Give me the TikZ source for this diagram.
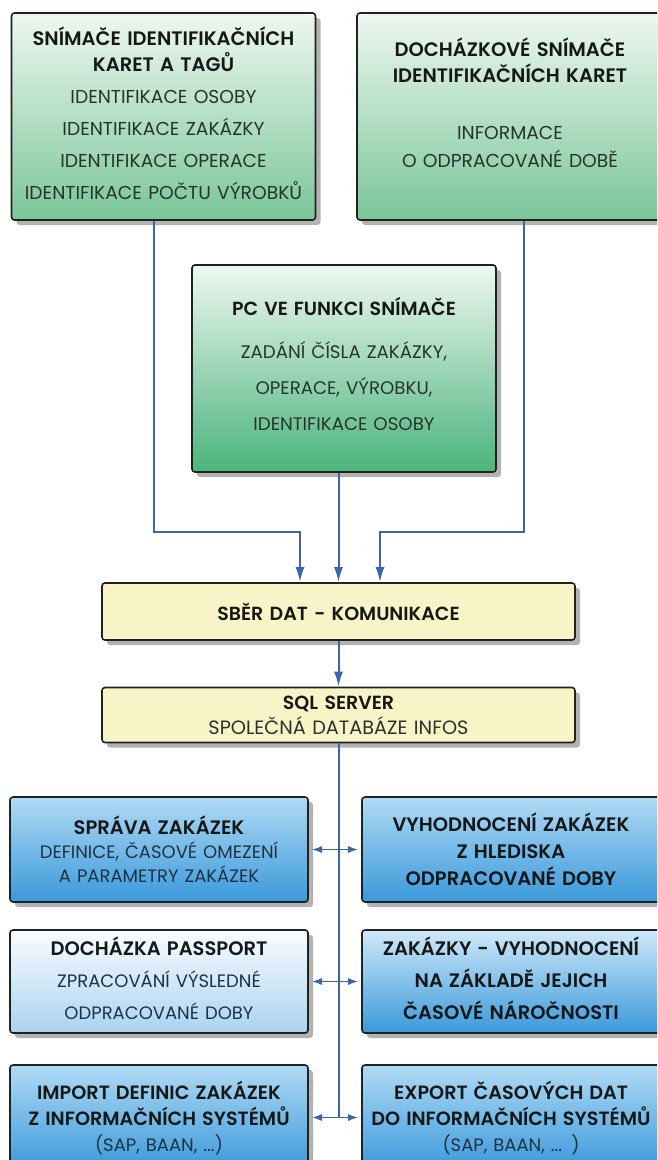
\documentclass[tikz,border=0pt]{standalone}
\usepackage{fontspec}
\setmainfont{Poppins}[BoldFont={Poppins SemiBold}]
\usetikzlibrary{arrows.meta,shadows,positioning}
\definecolor{boxline}{HTML}{1E2320}
\definecolor{linkblue}{HTML}{3966AD}
\definecolor{titlec}{HTML}{161817}
\definecolor{subgreen}{HTML}{26352C}
\definecolor{subblue}{HTML}{1E3246}
\definecolor{greentop}{HTML}{EEF7F0}
\definecolor{greenbot}{HTML}{7AC699}
\definecolor{pcbot}{HTML}{4BB47C}
\definecolor{yellowfill}{HTML}{F8F4C8}
\definecolor{bluetop}{HTML}{B0DAF4}
\definecolor{bluebot}{HTML}{3A99DB}
\definecolor{paletop}{HTML}{FAFCFF}
\definecolor{palebot}{HTML}{A9D3F0}
\newcommand{\hd}[1][19.5]{\fontsize{#1}{\baselineskip}\selectfont\bfseries\color{titlec}}

\begin{document}
\begin{tikzpicture}[x=1pt,y=-1pt,>={Latex[length=15pt,width=9pt]},
  box/.style={draw=boxline,line width=1.6pt,rounded corners=3pt,align=center,inner sep=0pt,
    drop shadow={shadow xshift=5pt,shadow yshift=-5pt,fill=black!60,opacity=.5}},
  greenbox/.style={box,top color=greentop,bottom color=greenbot,minimum width=304pt,minimum height=207pt,text width=300pt,text=subgreen},
  yellowbox/.style={box,fill=yellowfill,minimum width=473pt,text width=460pt,text=subgreen},
  bluebox/.style={box,top color=bluetop,bottom color=bluebot,minimum width=298pt,minimum height=105pt,text width=296pt,text=subblue},
  link/.style={draw=linkblue,line width=2pt},
  dlink/.style={draw=linkblue,line width=1.6pt,<->,>={Latex[length=10pt,width=7pt]},shorten <=3pt,shorten >=3pt}]
  \fill[white] (0,0) rectangle (657,1160);
  \useasboundingbox (0,0) rectangle (657,1160);
  \clip (0,0) rectangle (657,1160);
  % snimace
  \node[greenbox,font=\fontsize{18.7}{32}\selectfont] (cards) at (163.5,116.5){{\hd SNÍMAČE IDENTIFIKAČNÍCH\\[-6pt] KARET A TAGŮ}\\ IDENTIFIKACE OSOBY\\ IDENTIFIKACE ZAKÁZKY\\ IDENTIFIKACE OPERACE\\ IDENTIFIKACE POČTU VÝROBKŮ\\[-26pt]\mbox{}};
  \node[greenbox,font=\fontsize{18.7}{28}\selectfont,minimum width=306pt] (att) at (510,116.5){{\hd DOCHÁZKOVÉ SNÍMAČE\\[-2pt] IDENTIFIKAČNÍCH KARET}\\[29pt] INFORMACE\\ O ODPRACOVANÉ DOBĚ\\[0pt]\mbox{}};
  \node[greenbox,bottom color=pcbot,font=\fontsize{18.2}{36}\selectfont] (pc) at (344,368.5){{\hd[19] PC VE FUNKCI SNÍMAČE}\\[7pt] ZADÁNÍ ČÍSLA ZAKÁZKY,\\ OPERACE, VÝROBKU,\\ IDENTIFIKACE OSOBY\\[-26pt]\mbox{}};
  % server
  \node[yellowbox,minimum height=57pt,font=\fontsize{19}{25}\selectfont] (collect) at (338.5,611.5){\hd[19] SBĚR DAT - KOMUNIKACE};
  \node[yellowbox,minimum height=55pt,font=\fontsize{19.3}{25}\selectfont] (sql) at (338.5,715){{\hd[19] SQL SERVER}\\ SPOLEČNÁ DATABÁZE INFOS};
  % moduly
  \node[bluebox,font=\fontsize{18}{24}\selectfont] (orders) at (159,849.5){{\hd[19.5] SPRÁVA ZAKÁZEK}\\ DEFINICE, ČASOVÉ OMEZENÍ\\ A PARAMETRY ZAKÁZEK};
  \node[bluebox,font=\fontsize{18}{27}\selectfont] (eval) at (511,849.5){\hd[19.5] VYHODNOCENÍ ZAKÁZEK\\ Z HLEDISKA\\ ODPRACOVANÉ DOBY};
  \node[bluebox,top color=paletop,bottom color=palebot,minimum height=103pt,font=\fontsize{18}{32}\selectfont] (passport) at (159,981.5){{\hd[19.5] DOCHÁZKA PASSPORT}\\ ZPRACOVÁNÍ VÝSLEDNÉ\\ ODPRACOVANÉ DOBY\\[-26pt]\mbox{}};
  \node[bluebox,top color=bluetop!60!white,minimum height=103pt,font=\fontsize{18}{32}\selectfont] (cost) at (511,981.5){\hd[19.5] ZAKÁZKY - VYHODNOCENÍ\\ NA ZÁKLADĚ JEJICH\\ ČASOVÉ NÁROČNOSTI\\[-26pt]\mbox{}};
  \node[bluebox,font=\fontsize{18}{26}\selectfont] (import) at (159,1117.5){{\hd[19.2] IMPORT DEFINIC ZAKÁZEK\\ Z INFORMAČNÍCH SYSTÉMŮ}\\ (SAP, BAAN, ...)};
  \node[bluebox,font=\fontsize{18}{26}\selectfont] (export) at (511,1117.5){{\hd[19.2] EXPORT ČASOVÝCH DAT\\ DO INFORMAČNÍCH SYSTÉMŮ}\\ (SAP, BAAN, ... )};
  % spojnice
  \coordinate (jl) at (300,532); \coordinate (jr) at (380,532);
  \draw[link,->]([xshift=-9.5pt]cards.south) |- (jl) -- (jl |- collect.north);
  \draw[link,->]([xshift=14pt]att.south) |- (jr) -- (jr |- collect.north);
  \draw[link,->](pc.south -| collect.north) -- (collect.north);
  \draw[link,->](collect.south) -- (sql.north);
  \draw[link](sql.south) -- (sql.south |- import.east);
  \draw[dlink](orders.east) -- (eval.west);\draw[dlink](passport.east) -- (cost.west);\draw[dlink](import.east) -- (export.west);
\end{tikzpicture}
\end{document}
